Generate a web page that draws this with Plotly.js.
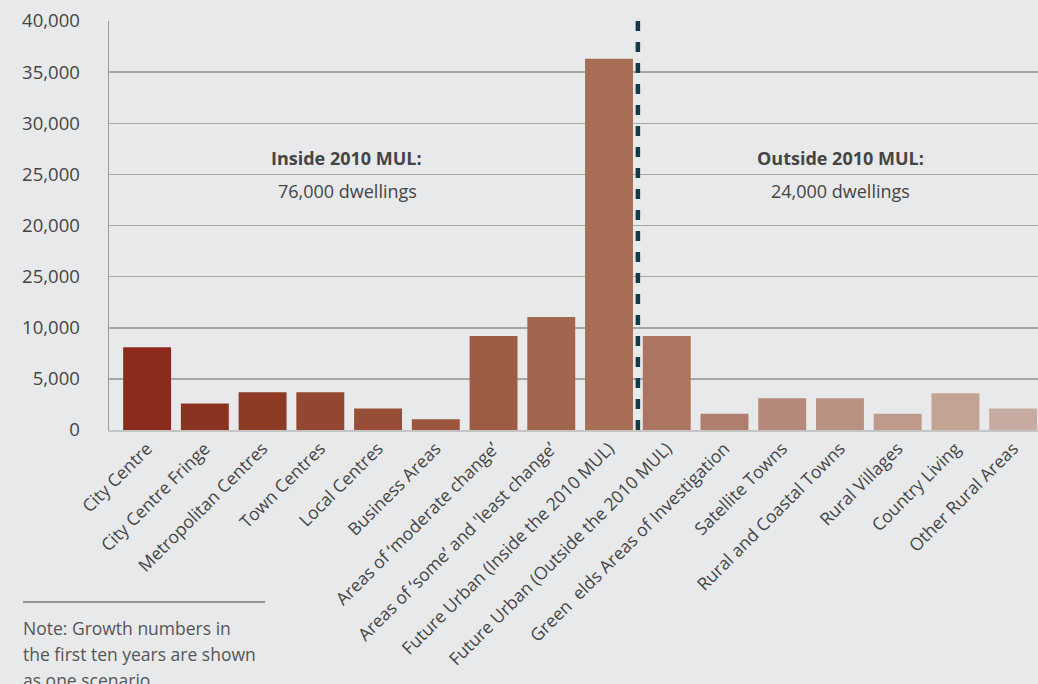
<!DOCTYPE html>
<html>
<head>
<meta charset="utf-8">
<script src="https://cdn.plot.ly/plotly-3.0.1.min.js"></script>
<style>
  html, body { margin: 0; padding: 0; background: #e8e9eb; }
  #chart { width: 1038px; height: 684px; }
</style>
</head>
<body>
<div id="chart"></div>
<script>
// ---- data ----
const categories = [
  "City Centre",
  "City Centre Fringe",
  "Metropolitan Centres",
  "Town Centres",
  "Local Centres",
  "Business Areas",
  "Areas of \u2018moderate change\u2019",
  "Areas of \u2018some\u2019 and 'least change\u2019",
  "Future Urban (Inside the 2010 MUL)",
  "Future Urban (Outside the 2010 MUL)",
  "Green\u00a0\u00a0elds Areas of Investigation",
  "Satellite Towns",
  "Rural and Coastal Towns",
  "Rural Villages",
  "Country Living",
  "Other Rural Areas"
];
const dwellings = [8100, 2600, 3700, 3700, 2100, 1050, 9200, 11050, 36300, 9200, 1600, 3100, 3100, 1600, 3600, 2100];
const barColors = [
  "#8a2b1c", "#8b3321", "#8e3b26", "#934630", "#984e36", "#9c553c",
  "#9f5c45", "#a2664e", "#a86d55", "#ac7560", "#b07e6c", "#b58879",
  "#b99182", "#bf998b", "#c3a394", "#c8aba0"
];
const yTickVals = [0, 5000, 10000, 15000, 20000, 25000, 30000, 35000, 40000];
const yTickText = ["0", "5,000", "10,000", "25,000", "20,000", "25,000", "30,000", "35,000", "40,000"];
const noteLines = ["Note: Growth numbers in", "the first ten years are shown", "as one scenario"];

// ---- chart ----
const font = "'Open Sans', 'Noto Sans', sans-serif";
const textColor = "#454545";

const trace = {
  type: "bar",
  x: categories.map((c, i) => i),
  y: dwellings,
  marker: { color: barColors, line: { width: 0 } },
  width: 0.83,
  hoverinfo: "x+y"
};

function label(x, y, text) {
  return { xref: "paper", yref: "paper", x: x, y: y, xanchor: "center", yanchor: "middle",
    text: text, showarrow: false, font: { family: font, size: 18, color: textColor } };
}

const annotations = [
  label(0.256, 0.665, "<b>Inside 2010 MUL:</b>"),
  label(0.257, 0.584, "76,000 dwellings"),
  label(0.787, 0.665, "<b>Outside 2010 MUL:</b>"),
  label(0.787, 0.584, "24,000 dwellings")
];
noteLines.forEach((t, i) => {
  annotations.push({
    xref: "paper", yref: "paper", x: -0.0945, xanchor: "left",
    y: (430 - (628 + i * 26)) / 409, yanchor: "middle",
    text: t, showarrow: false, align: "left",
    font: { family: font, size: 17.5, color: "#555555" }
  });
});

const layout = {
  width: 1038,
  height: 684,
  margin: { l: 109, r: 0, t: 21, b: 254, pad: 0 },
  paper_bgcolor: "#e8e9eb",
  plot_bgcolor: "#e8e9eb",
  showlegend: false,
  xaxis: {
    type: "linear",
    range: [-0.66, 15.43],
    tickmode: "array",
    tickvals: categories.map((c, i) => i),
    ticktext: categories,
    tickangle: -45,
    ticks: "",
    ticklen: 0,
    tickfont: { family: font, size: 17.5, color: textColor },
    showgrid: false,
    zeroline: false,
    showline: true,
    linecolor: "#c4c4c4",
    linewidth: 1.5,
    automargin: false,
    fixedrange: true
  },
  yaxis: {
    range: [0, 40000],
    tickmode: "array",
    tickvals: yTickVals,
    ticktext: yTickText,
    ticks: "outside",
    ticklen: 24,
    tickcolor: "rgba(0,0,0,0)",
    tickfont: { family: font, size: 18.5, color: textColor },
    showgrid: true,
    gridcolor: "#a6a6a6",
    gridwidth: 1.5,
    zeroline: false,
    showline: true,
    linecolor: "#9a9a9a",
    linewidth: 1.5,
    automargin: false,
    fixedrange: true
  },
  shapes: [
    { type: "line", xref: "x", yref: "paper", x0: 8.5, x1: 8.5, y0: 1, y1: 0,
      line: { color: "#163848", width: 4.5, dash: "10px,11px" }, layer: "above" },
    { type: "line", xref: "paper", yref: "paper",
      x0: -0.0926, x1: 0.168, y0: (430 - 602) / 409, y1: (430 - 602) / 409,
      line: { color: "#444444", width: 1.2 } }
  ],
  annotations: annotations
};

Plotly.newPlot("chart", [trace], layout, { displayModeBar: false, staticPlot: true });
</script>
</body>
</html>
